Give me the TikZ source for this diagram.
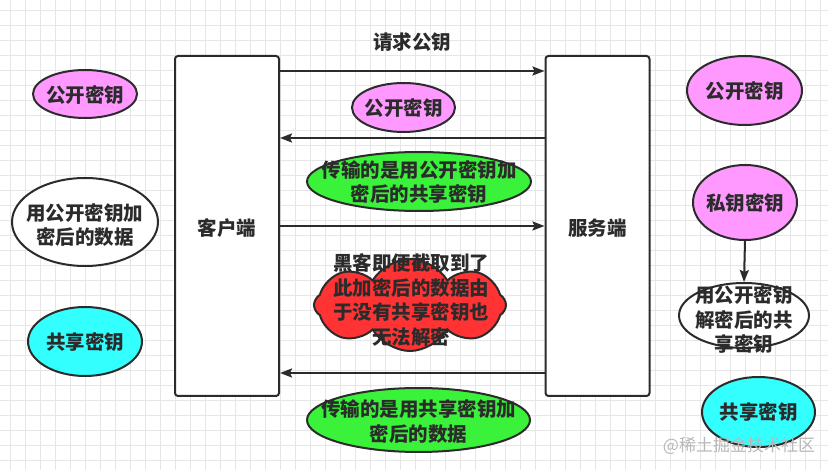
\documentclass[tikz,border=0pt]{standalone}
\usepackage{fontspec}
\setmainfont{Noto Sans CJK SC}
\usetikzlibrary{shapes.geometric,shapes.symbols,arrows.meta}
\definecolor{ink}{HTML}{2B2B2B}
\definecolor{gridc}{HTML}{E6E6E6}
\definecolor{pinkf}{HTML}{FF99FF}
\definecolor{greenf}{HTML}{3BF23B}
\definecolor{cyanf}{HTML}{33FFFF}
\definecolor{redf}{HTML}{FF3333}
\definecolor{wmark}{HTML}{B8B8B8}
\tikzset{
  txt/.style={font=\fontsize{19.5}{24.5}\selectfont\bfseries, text=ink, align=center, inner sep=0pt},
  party/.style={draw=ink, line width=2pt, fill=white, rounded corners=3pt, minimum width=104pt, minimum height=340pt, inner sep=0pt},
  ell/.style={ellipse, draw=ink, line width=2pt, inner sep=0pt},
  pinkell/.style={ell, fill=pinkf},
  greenell/.style={ell, fill=greenf},
  cyanell/.style={ell, fill=cyanf},
  whiteell/.style={ell, fill=white},
  arr/.style={draw=ink, line width=2pt, -{Stealth[length=12pt,width=9pt,inset=2pt]}},
  gridline/.style={draw=gridc, line width=0.8pt},
}
\begin{document}
\begin{tikzpicture}[x=1pt,y=-1pt]
\useasboundingbox (0,0) rectangle (828,470);
\fill[white] (0,0) rectangle (828,470);
\foreach \i in {0,...,54} \draw[gridline] ({10.7+15*\i},0) -- ({10.7+15*\i},470);
\foreach \j in {0,...,30} \draw[gridline] (0,{10+15*\j}) -- (828,{10+15*\j});

% parties
\node[party] (client) at (227,226) {};
\node[txt] (clientt) at (227,228) {客户端};
\node[party] (server) at (597.5,226) {};
\node[txt] (servert) at (597.5,228) {服务端};

% arrows
\draw[arr] ([yshift=-16pt]client.north east) -- ([yshift=-16pt]server.north west);
\draw[arr] ([yshift=-83pt]server.north west) -- ([yshift=-83pt]client.north east);
\draw[arr] ([yshift=-171pt]client.north east) -- ([yshift=-171pt]server.north west);
\draw[arr] ([yshift=-318pt]server.north west) -- ([yshift=-318pt]client.north east);

\node[txt] (req) at (412,42) {请求公钥};

% left column
\node[pinkell, minimum width=104pt, minimum height=48pt] (lpk) at (85,94) {};
\node[txt] (lpkt) at (85,95) {公开密钥};
\node[whiteell, minimum width=146pt, minimum height=88pt] (ldata) at (85,222) {};
\node[txt] (ldatat) at (85,225) {用公开密钥加\\密后的数据};
\node[cyanell, minimum width=114pt, minimum height=69pt] (lsk) at (85,341.5) {};
\node[txt] (lskt) at (85,342) {共享密钥};

% middle
\node[pinkell, minimum width=103pt, minimum height=49pt] (mpk) at (403.5,107.5) {};
\node[txt] (mpkt) at (403.5,108) {公开密钥};
\node[greenell, minimum width=224pt, minimum height=59pt] (g1) at (419,181.5) {};
\node[txt] (g1t) at (419,182) {传输的是用公开密钥加\\密后的共享密钥};
\node[cloud, cloud puffs=8, cloud puff arc=120, cloud ignores aspect, draw=ink, line width=2pt, fill=redf, minimum width=192pt, minimum height=92pt, inner sep=0pt] (hack) at (410,305) {};
\node[txt] (hackt) at (411,300) {黑客即便截取到了\\此加密后的数据由\\于没有共享密钥也\\无法解密};
\node[greenell, minimum width=223pt, minimum height=64pt] (g2) at (418.5,420) {};
\node[txt] (g2t) at (418.5,421.5) {传输的是用共享密钥加\\密后的数据};

% right column
\node[pinkell, minimum width=115pt, minimum height=69pt] (rpk) at (744.5,90.5) {};
\node[txt] (rpkt) at (744.5,91) {公开密钥};
\node[pinkell, minimum width=104pt, minimum height=75pt] (rpriv) at (745,202.5) {};
\node[txt] (rprivt) at (745,203) {私钥密钥};
\node[whiteell, minimum width=130pt, minimum height=65pt] (rdec) at (744,315.5) {};
\node[txt] (rdect) at (744,320) {用公开密钥\\解密后的共\\享密钥};
\draw[arr] (rpriv.south) -- (rdec.north);
\node[cyanell, minimum width=113pt, minimum height=70pt] (rsk) at (758.5,412) {};
\node[txt] (rskt) at (758.5,412) {共享密钥};

\node[font=\fontsize{17}{20}\selectfont, text=wmark, inner sep=0pt] (wm) at (739,446) {@稀土掘金技术社区};
\end{tikzpicture}
\end{document}
